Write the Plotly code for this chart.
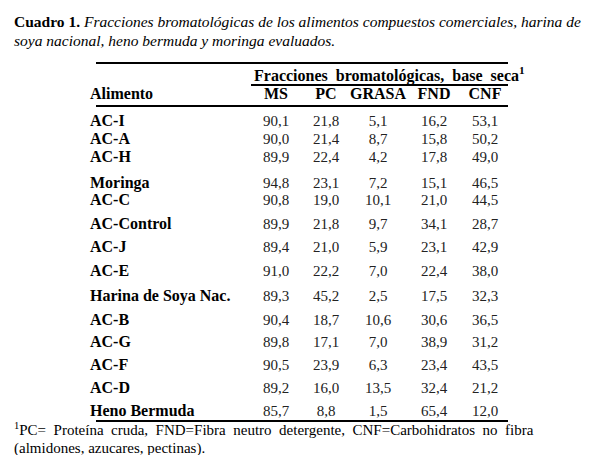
import plotly.graph_objects as go

foods = ["AC-I","AC-A","AC-H","Moringa","AC-C","AC-Control","AC-J","AC-E",
         "Harina de Soya Nac.","AC-B","AC-G","AC-F","AC-D","Heno Bermuda"]
columns = ["MS","PC","GRASA","FND","CNF"]
MS = [90.1,90.0,89.9,94.8,90.8,89.9,89.4,91.0,89.3,90.4,89.8,90.5,89.2,85.7]
PC = [21.8,21.4,22.4,23.1,19.0,21.8,21.0,22.2,45.2,18.7,17.1,23.9,16.0,8.8]
GRASA = [5.1,8.7,4.2,7.2,10.1,9.7,5.9,7.0,2.5,10.6,7.0,6.3,13.5,1.5]
FND = [16.2,15.8,17.8,15.1,21.0,34.1,23.1,22.4,17.5,30.6,38.9,23.4,32.4,65.4]
CNF = [53.1,50.2,49.0,46.5,44.5,28.7,42.9,38.0,32.3,36.5,31.2,43.5,21.2,12.0]
values = [MS, PC, GRASA, FND, CNF]

# layout positions (pixels)
row_y = [114,132,150,176,193,217,240,264,289,313,335,358,381,404]
col_x = [268,318,370,426,477]
FONT = "Liberation Serif"

fig = go.Figure()
fig.add_trace(go.Scatter(x=[82]*len(foods), y=row_y, mode="text", text=[f"<b>{f}</b>" for f in foods],
                         textposition="middle right", textfont=dict(family=FONT, size=16, color="black"),
                         hoverinfo="skip"))
for cx, vals in zip(col_x, values):
    fig.add_trace(go.Scatter(x=[cx]*len(vals), y=row_y, mode="text",
                             text=[f"{v:.1f}".replace(".", ",") for v in vals],
                             textposition="middle center",
                             textfont=dict(family=FONT, size=15, color="#222"), hoverinfo="skip"))
fig.add_trace(go.Scatter(x=col_x, y=[87]*5, mode="text", text=[f"<b>{c}</b>" for c in columns],
                         textposition="middle center", textfont=dict(family=FONT, size=16, color="black"),
                         hoverinfo="skip"))
fig.add_trace(go.Scatter(x=[82], y=[87], mode="text", text=["<b>Alimento</b>"],
                         textposition="middle right", textfont=dict(family=FONT, size=16, color="black"),
                         hoverinfo="skip"))

ann = [
    dict(x=244, y=66, text="<b>Fracciones  bromatológicas,  base  seca<sup>1</sup></b>", xanchor="left", size=16),
    dict(x=4, y=13, text="<b>Cuadro 1.</b> <i>Fracciones bromatológicas de los alimentos compuestos comerciales, harina de</i>", xanchor="left", size=15.5),
    dict(x=4, y=32, text="<i>soya nacional, heno bermuda y moringa evaluados.</i>", xanchor="left", size=15.5),
    dict(x=4, y=421, text="<sup>1</sup>PC=  Proteína  cruda,  FND=Fibra  neutro  detergente,  CNF=Carbohidratos  no  fibra", xanchor="left", size=15),
    dict(x=4, y=440, text="(almidones, azucares, pectinas).", xanchor="left", size=15),
]
for a in ann:
    s = a.pop("size")
    fig.add_annotation(xref="x", yref="y", showarrow=False, yanchor="middle",
                       font=dict(family=FONT, size=s, color="black"), **a)

for y0, x0 in [(55, 88), (77, 243), (98, 88), (413, 88)]:
    fig.add_shape(type="line", xref="x", yref="y", x0=x0, x1=500, y0=y0, y1=y0,
                  line=dict(color="black", width=2))

fig.update_layout(width=600, height=455, margin=dict(l=0, r=0, t=0, b=0),
                  font=dict(family=FONT),
                  plot_bgcolor="white", paper_bgcolor="white", showlegend=False,
                  xaxis=dict(range=[0, 600], visible=False, fixedrange=True),
                  yaxis=dict(range=[455, 0], visible=False, fixedrange=True))
fig.write_html("out.html")
